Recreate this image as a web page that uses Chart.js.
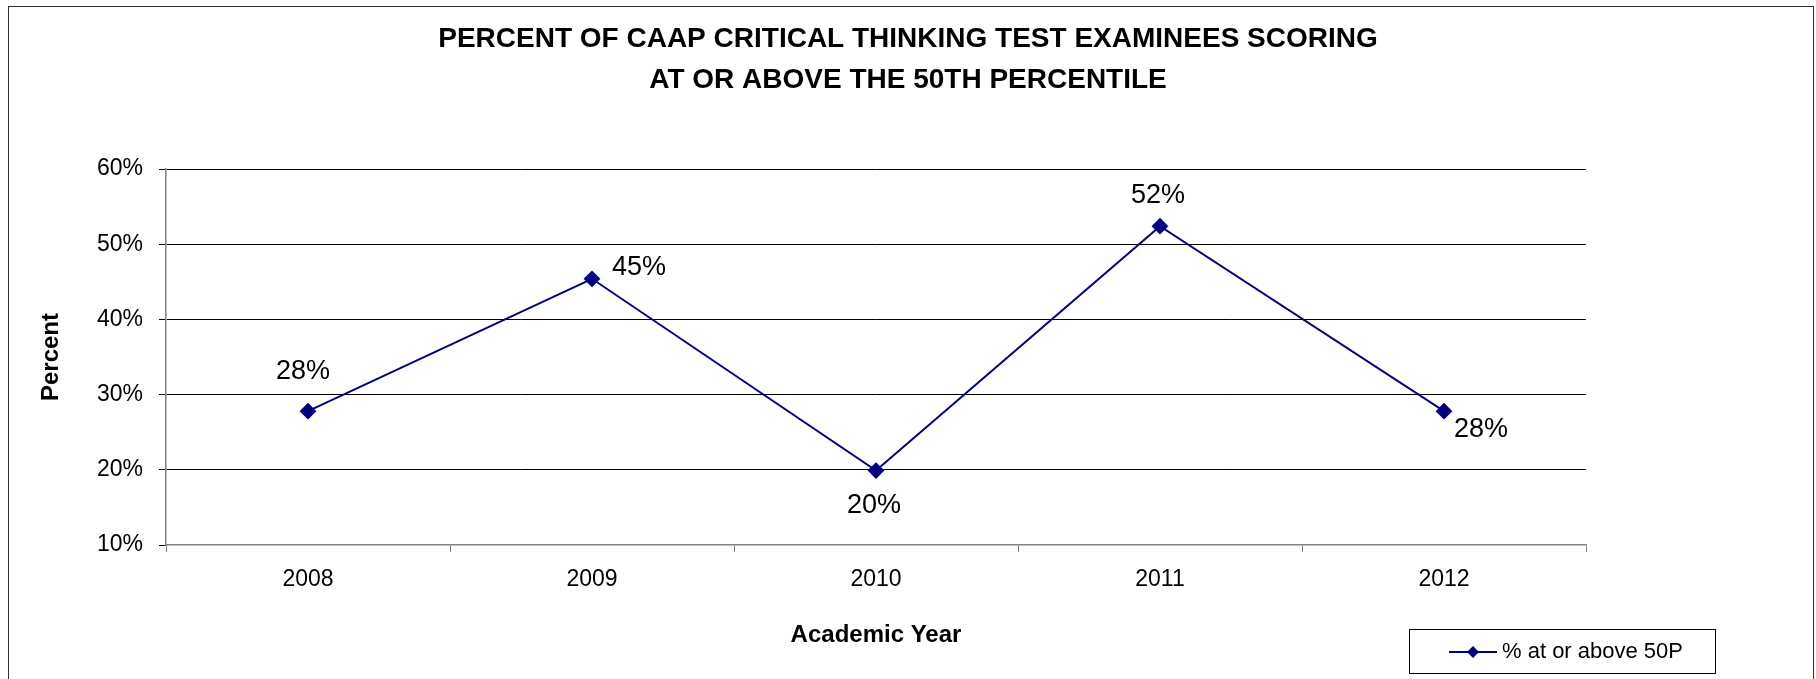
<!DOCTYPE html>
<html>
<head>
<meta charset="utf-8">
<title>CAAP Critical Thinking</title>
<script src="https://cdn.jsdelivr.net/npm/chart.js@4.4.1/dist/chart.umd.min.js"></script>
<style>
  html, body { margin: 0; padding: 0; background: #fff; }
  #wrap { width: 1816px; height: 679px; }
</style>
</head>
<body>
<div id="wrap"><canvas id="chart" width="1816" height="679"></canvas></div>
<script>
// data
const years = ["2008", "2009", "2010", "2011", "2012"];
const pctAtOrAbove = [27.8, 45.4, 19.9, 52.4, 27.8];
const seriesName = "% at or above 50P";
const titleLines = [
  "PERCENT OF CAAP CRITICAL THINKING TEST EXAMINEES SCORING",
  "AT OR ABOVE THE 50TH PERCENTILE"
];
const yMin = 10, yMax = 60, yStep = 10;

// where each value label sits relative to its point (dx, dy)
const labelOffsets = [[-5, -40], [47, -11], [-2, 35], [-2, -31], [37, 18]];

const FONT = "'Liberation Sans', Arial, sans-serif";
const NAVY = "#000080";

// frame, title, value labels, legend
const decorPlugin = {
  id: "decor",
  afterDraw(chart) {
    const ctx = chart.ctx;
    ctx.save();

    // outer frame
    ctx.strokeStyle = "#333";
    ctx.lineWidth = 1;
    ctx.strokeRect(8.5, 6.5, 1805, 720);

    // title
    ctx.fillStyle = "#000";
    ctx.font = "bold 28px " + FONT;
    ctx.textAlign = "center";
    ctx.textBaseline = "middle";
    titleLines.forEach((t, i) => ctx.fillText(t, 908, 39 + i * 41));

    // value labels
    const meta = chart.getDatasetMeta(0);
    ctx.font = "27px " + FONT;
    meta.data.forEach((pt, i) => {
      const txt = Math.round(pctAtOrAbove[i]) + "%";
      const [dx, dy] = labelOffsets[i];
      ctx.fillText(txt, pt.x + dx, pt.y + dy);
    });

    // legend box
    ctx.strokeStyle = "#000";
    ctx.lineWidth = 1;
    ctx.strokeRect(1409.5, 629.5, 306, 44);
    ctx.strokeStyle = NAVY;
    ctx.lineWidth = 2;
    ctx.beginPath();
    ctx.moveTo(1449, 652);
    ctx.lineTo(1497, 652);
    ctx.stroke();
    ctx.fillStyle = NAVY;
    ctx.beginPath();
    ctx.moveTo(1473, 646);
    ctx.lineTo(1479, 652);
    ctx.lineTo(1473, 658);
    ctx.lineTo(1467, 652);
    ctx.closePath();
    ctx.fill();
    ctx.fillStyle = "#000";
    ctx.font = "22px " + FONT;
    ctx.textAlign = "left";
    ctx.fillText(seriesName, 1502, 652);

    ctx.restore();
  }
};

new Chart(document.getElementById("chart"), {
  type: "line",
  data: {
    labels: years,
    datasets: [{
      label: seriesName,
      data: pctAtOrAbove,
      borderColor: NAVY,
      backgroundColor: NAVY,
      borderWidth: 2,
      tension: 0,
      pointStyle: "rectRot",
      pointRadius: 7,
      pointHoverRadius: 7,
      pointBackgroundColor: NAVY,
      pointBorderColor: NAVY
    }]
  },
  options: {
    responsive: false,
    animation: false,
    events: [],
    layout: { padding: { left: 0, right: 230, top: 169, bottom: 0 } },
    plugins: {
      legend: { display: false },
      title: { display: false },
      tooltip: { enabled: false }
    },
    scales: {
      x: {
        offset: true,
        afterFit: s => { s.height = 134; },
        grid: {
          offset: true,
          drawOnChartArea: false,
          drawTicks: true,
          tickLength: 7,
          tickColor: "#808080"
        },
        border: { color: "#808080", width: 1.5 },
        ticks: {
          color: "#000",
          padding: 14,
          font: { family: FONT, size: 23 }
        },
        title: {
          display: true,
          text: "Academic Year",
          color: "#000",
          font: { family: FONT, size: 24, weight: "bold" },
          padding: { top: 0, bottom: 29 }
        }
      },
      y: {
        min: yMin,
        max: yMax,
        afterFit: s => { s.width = 166; },
        grid: {
          color: c => (c.tick && c.tick.value === yMin) ? "rgba(0,0,0,0)" : "#000",
          lineWidth: 1,
          tickLength: 7,
          tickColor: "#000"
        },
        border: { color: "#808080", width: 1.5 },
        ticks: {
          stepSize: yStep,
          color: "#000",
          padding: 16,
          font: { family: FONT, size: 23 },
          callback: v => v + "%"
        },
        title: {
          display: true,
          text: "Percent",
          color: "#000",
          font: { family: FONT, size: 24, weight: "bold" },
          padding: { top: 37, bottom: 0 }
        }
      }
    }
  },
  plugins: [decorPlugin]
});
</script>
</body>
</html>
